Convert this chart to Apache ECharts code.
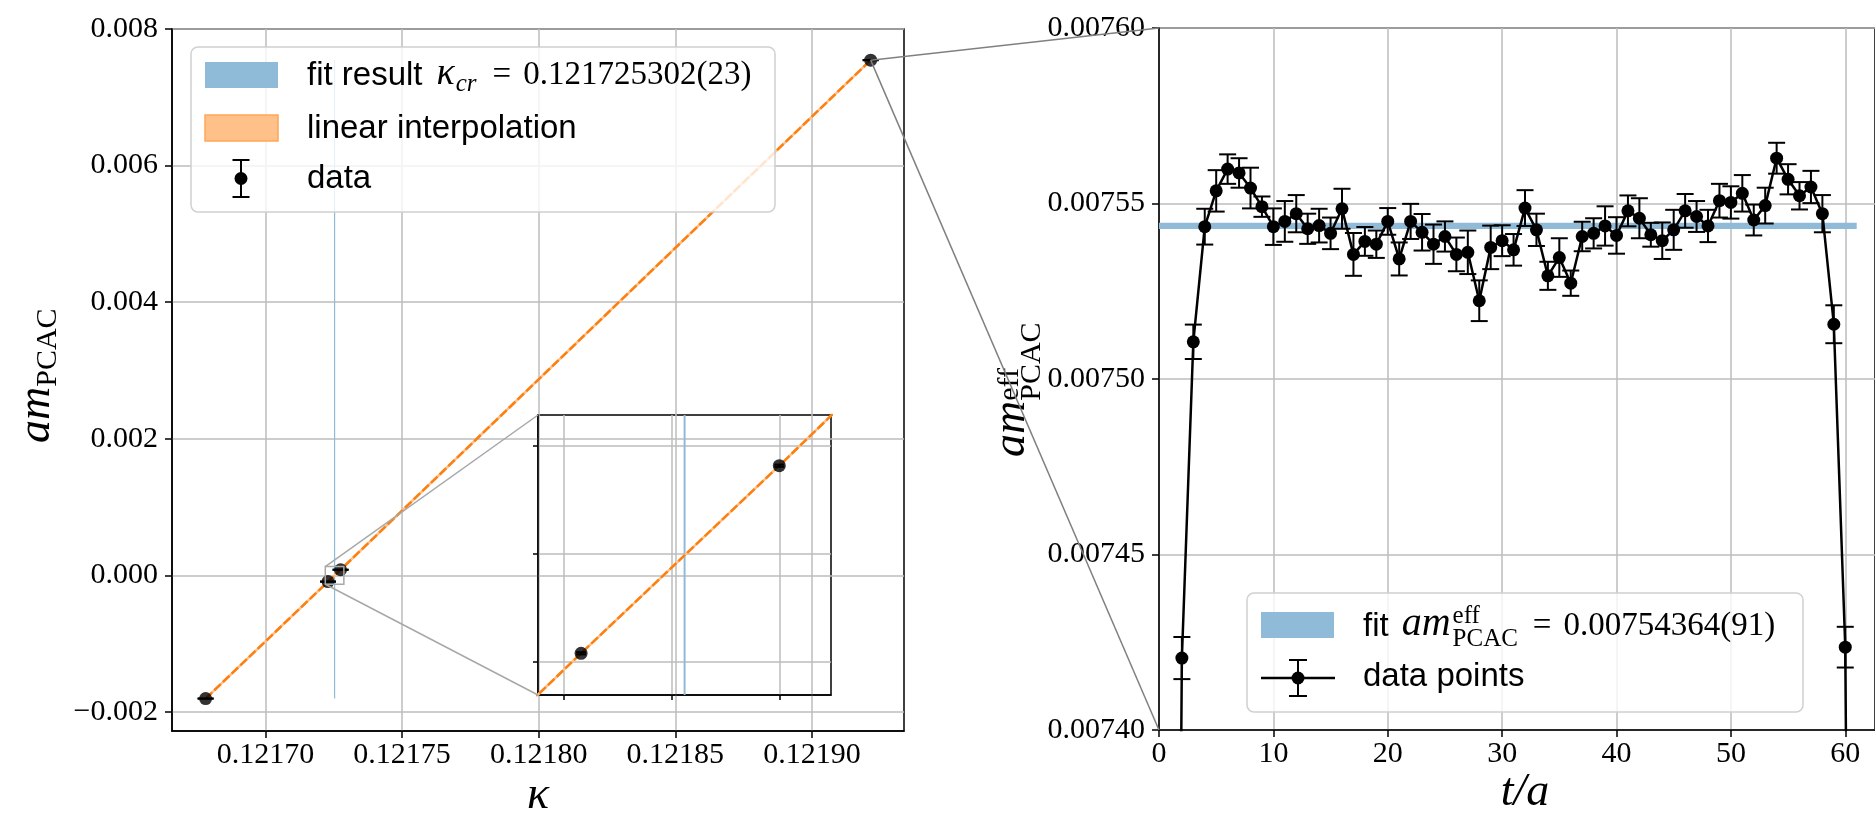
<!DOCTYPE html>
<html>
<head>
<meta charset="utf-8">
<script src="https://cdn.jsdelivr.net/npm/echarts@6/dist/echarts.min.js"></script>
<style>
  html, body { margin: 0; padding: 0; background: #ffffff; }
  #chart { width: 1875px; height: 819px; }
</style>
</head>
<body>
<div id="chart"></div>
<script>
// ---- hopping-parameter scan: PCAC mass against kappa ----
const kappaValues   = [0.1216781, 0.1217229, 0.1217275, 0.1219215];
const mPcacValues   = [-0.001805, -0.0000922, 0.0000815, 0.00754364];
const mPcacErrors   = [0.0000012, 0.0000010, 0.0000010, 0.00000091];
const kappaCritical = 0.121725302;
const kappaCriticalError = 0.000000023;
const kappaRange    = [0.1216658, 0.1219337];
const mPcacRange    = [-0.00228, 0.008];
const kappaTickValues = [0.12170, 0.12175, 0.12180, 0.12185, 0.12190];
const mPcacTickValues = [-0.002, 0, 0.002, 0.004, 0.006, 0.008];
// zoomed view around the zero crossing
const insetKappaRange = [0.1217219, 0.1217287];
const insetMRange     = [-0.0001308, 0.0001284];
const insetKappaTickValues = [0.1217225, 0.1217250, 0.1217275];
const insetMTickValues     = [-0.0001, 0, 0.0001];

// ---- effective PCAC mass against t/a ----
const tValues = [1, 2, 3, 4, 5, 6, 7, 8, 9, 10, 11, 12, 13, 14, 15, 16, 17, 18, 19, 20,
  21, 22, 23, 24, 25, 26, 27, 28, 29, 30, 31, 32, 33, 34, 35, 36, 37, 38, 39, 40,
  41, 42, 43, 44, 45, 46, 47, 48, 49, 50, 51, 52, 53, 54, 55, 56, 57, 58, 59, 60, 61];
const mEffValues = [0.00700, 0.0074205, 0.0075106, 0.0075434, 0.0075536, 0.0075598, 0.0075587,
  0.0075544, 0.0075491, 0.0075434, 0.0075449, 0.0075471, 0.0075428, 0.0075437, 0.0075415,
  0.0075485, 0.0075355, 0.0075392, 0.0075384, 0.0075449, 0.0075342, 0.0075449, 0.0075418,
  0.0075384, 0.0075406, 0.0075355, 0.0075361, 0.0075223, 0.0075375, 0.0075394, 0.0075368,
  0.0075487, 0.0075425, 0.0075294, 0.0075346, 0.0075273, 0.0075406, 0.0075415, 0.0075436,
  0.0075409, 0.0075479, 0.0075458, 0.0075411, 0.0075394, 0.0075425, 0.0075479, 0.0075463,
  0.0075436, 0.0075508, 0.0075503, 0.0075529, 0.0075453, 0.0075494, 0.0075629, 0.0075569,
  0.0075522, 0.0075547, 0.0075471, 0.0075156, 0.0074236, 0.00700];
const mEffErrors = [0.0000060, 0.0000060, 0.0000049, 0.0000051, 0.0000059, 0.0000042, 0.0000042,
  0.0000058, 0.0000029, 0.0000052, 0.0000058, 0.0000053, 0.0000043, 0.0000048, 0.0000045,
  0.0000057, 0.0000061, 0.0000041, 0.0000039, 0.0000038, 0.0000047, 0.0000050, 0.0000052,
  0.0000056, 0.0000043, 0.0000048, 0.0000062, 0.0000058, 0.0000062, 0.0000044, 0.0000045,
  0.0000051, 0.0000046, 0.0000040, 0.0000055, 0.0000036, 0.0000042, 0.0000043, 0.0000056,
  0.0000052, 0.0000044, 0.0000057, 0.0000034, 0.0000052, 0.0000057, 0.0000048, 0.0000044,
  0.0000046, 0.0000048, 0.0000046, 0.0000052, 0.0000044, 0.0000051, 0.0000044, 0.0000043,
  0.0000039, 0.0000046, 0.0000053, 0.0000054, 0.0000058, 0.0000060];
const mEffFit      = 0.00754364;
const mEffFitError = 0.00000091;
const fitRange     = [0, 61];
const tRange       = [0, 62.6];
const mEffRange    = [0.0074, 0.0076];
const tTickValues    = [0, 10, 20, 30, 40, 50, 60];
const mEffTickValues = [0.0074, 0.00745, 0.0075, 0.00755, 0.0076];

// ---- styling ----
const SERIF = 'Liberation Serif';
const SANS = 'Liberation Sans';
const BLUE_FILL = '#8fbbd9';
const ORANGE = '#ff7f0e';
const ORANGE_FILL = '#ffc08a';
const GRID_GRAY = '#bdbdbd';
const MARKER = 13;

const chart = echarts.init(document.getElementById('chart'), null, { renderer: 'canvas' });

function signed(v, digits) {
  return (v < 0 ? '\u2212' : '') + Math.abs(v).toFixed(digits);
}

function valueAxis(gridIndex, range, ticks, formatter, tickLen, labelMargin) {
  return {
    type: 'value', gridIndex: gridIndex, min: range[0], max: range[1],
    axisLine: { show: true, onZero: false, lineStyle: { color: '#000', width: 1.5 } },
    axisTick: { show: true, inside: false, length: tickLen, customValues: ticks,
                lineStyle: { color: '#000', width: 1.5 } },
    axisLabel: { show: !!formatter, customValues: ticks, formatter: formatter || undefined,
                 margin: labelMargin || 8, color: '#000', fontFamily: SERIF, fontSize: 30 },
    splitLine: { show: true, lineStyle: { color: GRID_GRAY, width: 1.5 } }
  };
}

// vertical error bar with caps
function errorBarItem(capHalf, width) {
  return function (params, api) {
    const x = api.value(0), y = api.value(1), e = api.value(2);
    const top = api.coord([x, y + e]);
    const bot = api.coord([x, y - e]);
    const st = { stroke: '#000', lineWidth: width };
    return { type: 'group', children: [
      { type: 'line', shape: { x1: top[0], y1: top[1], x2: bot[0], y2: bot[1] }, style: st },
      { type: 'line', shape: { x1: top[0] - capHalf, y1: top[1], x2: top[0] + capHalf, y2: top[1] }, style: st },
      { type: 'line', shape: { x1: bot[0] - capHalf, y1: bot[1], x2: bot[0] + capHalf, y2: bot[1] }, style: st }
    ]};
  };
}

// filled band [x0, x1, y0, y1], at least one pixel across
function bandItem(params, api) {
  const lo = api.coord([api.value(0), api.value(2)]);
  const hi = api.coord([api.value(1), api.value(3)]);
  let x = lo[0], w = hi[0] - lo[0];
  if (w < 1.2) { x = (lo[0] + hi[0]) / 2 - 0.6; w = 1.2; }
  let y = hi[1], h = lo[1] - hi[1];
  if (h < 1.2) { y = (lo[1] + hi[1]) / 2 - 0.6; h = 1.2; }
  return { type: 'rect', shape: { x: x, y: y, width: w, height: h }, style: { fill: BLUE_FILL } };
}

const kappaPoints = kappaValues.map((k, i) => [k, mPcacValues[i]]);
const kappaErrData = kappaValues.map((k, i) => [k, mPcacValues[i], mPcacErrors[i]]);
const kappaBand = [[kappaCritical - kappaCriticalError, kappaCritical + kappaCriticalError,
                    Math.min.apply(null, mPcacValues), Math.max.apply(null, mPcacValues)]];
const effPoints = tValues.map((t, i) => [t, mEffValues[i]]);
const effErrData = tValues.map((t, i) => [t, mEffValues[i], mEffErrors[i]]);
const effBand = [[fitRange[0], fitRange[1], mEffFit - mEffFitError, mEffFit + mEffFitError]];

function kappaSeries(axisIndex, capHalf) {
  return [
    { type: 'custom', xAxisIndex: axisIndex, yAxisIndex: axisIndex, clip: true, z: 2, silent: true,
      renderItem: bandItem, encode: { x: [0, 1], y: [2, 3] }, data: kappaBand },
    { type: 'line', xAxisIndex: axisIndex, yAxisIndex: axisIndex, clip: true, z: 3, silent: true,
      showSymbol: false, data: kappaPoints, lineStyle: { color: ORANGE_FILL, width: 2.5 } },
    { type: 'line', xAxisIndex: axisIndex, yAxisIndex: axisIndex, clip: true, z: 3, silent: true,
      showSymbol: false, data: kappaPoints, lineStyle: { color: ORANGE, width: 2.5, type: [9, 3] } },
    { type: 'custom', xAxisIndex: axisIndex, yAxisIndex: axisIndex, clip: true, z: 4, silent: true,
      renderItem: errorBarItem(capHalf, 2), encode: { x: 0, y: 1 }, data: kappaErrData },
    { type: 'scatter', xAxisIndex: axisIndex, yAxisIndex: axisIndex, clip: true, z: 5, silent: true,
      symbol: 'circle', symbolSize: MARKER, itemStyle: { color: '#000' }, data: kappaPoints }
  ];
}

chart.setOption({
  animation: false,
  backgroundColor: '#ffffff',
  grid: [
    { left: 172, top: 29, width: 732, height: 702, show: true, backgroundColor: 'transparent',
      borderColor: '#000', borderWidth: 1.5 },
    { left: 538, top: 415, width: 293, height: 280, show: true, backgroundColor: 'transparent',
      borderColor: '#000', borderWidth: 1.5 },
    { left: 1159, top: 28, width: 716, height: 702, show: true, backgroundColor: 'transparent',
      borderColor: '#000', borderWidth: 1.5 }
  ],
  xAxis: [
    valueAxis(0, kappaRange, kappaTickValues, v => v.toFixed(5), 7, 9),
    valueAxis(1, insetKappaRange, insetKappaTickValues, null, 5),
    valueAxis(2, tRange, tTickValues, v => String(Math.round(v)), 7, 9)
  ],
  yAxis: [
    valueAxis(0, mPcacRange, mPcacTickValues, v => signed(v, 3), 7, 14),
    valueAxis(1, insetMRange, insetMTickValues, null, 5),
    valueAxis(2, mEffRange, mEffTickValues, v => v.toFixed(5), 7, 14)
  ],
  series: [].concat(
    kappaSeries(0, 8),
    kappaSeries(1, 5),
    [
      { type: 'custom', xAxisIndex: 2, yAxisIndex: 2, clip: true, z: 2, silent: true,
        renderItem: bandItem, encode: { x: [0, 1], y: [2, 3] }, data: effBand },
      { type: 'custom', xAxisIndex: 2, yAxisIndex: 2, clip: true, z: 4, silent: true,
        renderItem: errorBarItem(8.5, 2), encode: { x: 0, y: 1 }, data: effErrData },
      { type: 'line', xAxisIndex: 2, yAxisIndex: 2, clip: true, z: 5, silent: true,
        data: effPoints, symbol: 'circle', symbolSize: MARKER, showSymbol: true, showAllSymbol: true,
        itemStyle: { color: '#000' }, lineStyle: { color: '#000', width: 2.5 } }
    ]
  )
});

// ---- text runs (mixed fonts, sub/superscripts) ----
const measureCtx = document.createElement('canvas').getContext('2d');
function runText(x0, y0, parts, vertical) {
  const out = [];
  let adv = 0, stackStart = 0;
  parts.forEach(p => {
    measureCtx.font = (p.italic ? 'italic ' : '') + p.size + 'px "' + p.family + '"';
    const w = measureCtx.measureText(p.text).width;
    const start = p.stack ? stackStart : adv + (p.gap || 0);
    const mid = (p.shift || 0) - 0.34 * p.size;
    const x = vertical ? x0 + mid : x0 + start;
    const y = vertical ? y0 - start : y0 + mid;
    out.push({ type: 'text', x: x, y: y, rotation: vertical ? Math.PI / 2 : 0, z: 102, silent: true,
      style: { text: p.text, fontSize: p.size, fontFamily: p.family,
               fontStyle: p.italic ? 'italic' : 'normal', fill: '#000',
               align: 'left', verticalAlign: 'middle' } });
    if (p.stack) { adv = Math.max(adv, start + w); }
    else { stackStart = start; adv = start + w; }
  });
  return out;
}
function centeredText(cx, baseline, text, size, italic) {
  measureCtx.font = (italic ? 'italic ' : '') + size + 'px "' + SERIF + '"';
  const w = measureCtx.measureText(text).width;
  return runText(cx - w / 2, baseline, [{ text: text, size: size, family: SERIF, italic: italic }], false);
}
function legendBox(x, y, w, h) {
  return { type: 'rect', z: 100, silent: true, shape: { x: x, y: y, width: w, height: h, r: 7 },
           style: { fill: 'rgba(255,255,255,0.8)', stroke: '#d0d0d0', lineWidth: 1.5 } };
}
function errorIcon(cx, y1, y2, capHalf, withLine, lx1, lx2) {
  const st = { stroke: '#000', lineWidth: 2 };
  const els = [];
  if (withLine) {
    els.push({ type: 'line', z: 101, silent: true,
               shape: { x1: lx1, y1: (y1 + y2) / 2, x2: lx2, y2: (y1 + y2) / 2 },
               style: { stroke: '#000', lineWidth: 2.5 } });
  }
  els.push({ type: 'line', z: 101, silent: true, shape: { x1: cx, y1: y1, x2: cx, y2: y2 }, style: st });
  els.push({ type: 'line', z: 101, silent: true, shape: { x1: cx - capHalf, y1: y1, x2: cx + capHalf, y2: y1 }, style: st });
  els.push({ type: 'line', z: 101, silent: true, shape: { x1: cx - capHalf, y1: y2, x2: cx + capHalf, y2: y2 }, style: st });
  els.push({ type: 'circle', z: 101, silent: true, shape: { cx: cx, cy: (y1 + y2) / 2, r: MARKER / 2 },
             style: { fill: '#000' } });
  return els;
}

const elements = [];

// legend of the kappa scan
elements.push(legendBox(191, 47, 584, 165));
elements.push({ type: 'rect', z: 101, silent: true, shape: { x: 205, y: 62, width: 73, height: 26 },
                style: { fill: BLUE_FILL } });
elements.push({ type: 'rect', z: 101, silent: true, shape: { x: 205, y: 115, width: 73, height: 26 },
                style: { fill: ORANGE_FILL, stroke: '#ffa657', lineWidth: 1.5 } });
elements.push.apply(elements, errorIcon(241, 160, 197, 8.5, false));
elements.push.apply(elements, runText(307, 87, [
  { text: 'fit result', size: 33, family: SANS },
  { text: '\u03ba', size: 38, family: SERIF, italic: true, gap: 14 },
  { text: 'cr', size: 25, family: SERIF, italic: true, shift: 6, gap: 1 },
  { text: '=', size: 33, family: SERIF, gap: 16 },
  { text: '0.121725302(23)', size: 33, family: SERIF, gap: 12 }
], false));
elements.push.apply(elements, runText(307, 140, [{ text: 'linear interpolation', size: 33, family: SANS }], false));
elements.push.apply(elements, runText(307, 190, [{ text: 'data', size: 33, family: SANS }], false));

// legend of the effective mass
elements.push(legendBox(1247, 593, 556, 119));
elements.push({ type: 'rect', z: 101, silent: true, shape: { x: 1261, y: 612, width: 73, height: 26 },
                style: { fill: BLUE_FILL } });
elements.push.apply(elements, errorIcon(1298, 660, 696, 9, true, 1261, 1335));
elements.push.apply(elements, runText(1363, 638, [
  { text: 'fit', size: 33, family: SANS },
  { text: 'am', size: 40, family: SERIF, italic: true, gap: 13 },
  { text: 'eff', size: 25, family: SERIF, shift: -13, gap: 2 },
  { text: 'PCAC', size: 25, family: SERIF, shift: 10, stack: true },
  { text: '=', size: 33, family: SERIF, gap: 15 },
  { text: '0.00754364(91)', size: 33, family: SERIF, gap: 12 }
], false));
elements.push.apply(elements, runText(1363, 688, [{ text: 'data points', size: 33, family: SANS }], false));

// axis titles
elements.push.apply(elements, centeredText(538, 812, '\u03ba', 46, true));
elements.push.apply(elements, centeredText(1525, 809, 't/a', 46, true));
elements.push.apply(elements, runText(53, 443, [
  { text: 'am', size: 46, family: SERIF, italic: true },
  { text: 'PCAC', size: 30, family: SERIF, shift: 5 }
], true));
elements.push.apply(elements, runText(1028, 457, [
  { text: 'am', size: 46, family: SERIF, italic: true },
  { text: 'eff', size: 30, family: SERIF, shift: -8 },
  { text: 'PCAC', size: 30, family: SERIF, shift: 14, stack: true }
], true));

// zoom indicators, placed through the axes' own scales
const px = (grid, v) => chart.convertToPixel({ gridIndex: grid }, v);
const boxLL = px(0, [insetKappaRange[0], insetMRange[0]]);
const boxUR = px(0, [insetKappaRange[1], insetMRange[1]]);
const insetLL = px(1, [insetKappaRange[0], insetMRange[0]]);
const insetUL = px(1, [insetKappaRange[0], insetMRange[1]]);
const zoomStyle = { stroke: '#a8a8a8', lineWidth: 1.5, fill: null };
elements.push({ type: 'rect', z: 99, silent: true,
  shape: { x: boxLL[0], y: boxUR[1], width: boxUR[0] - boxLL[0], height: boxLL[1] - boxUR[1] },
  style: zoomStyle });
elements.push({ type: 'line', z: 99, silent: true,
  shape: { x1: boxLL[0], y1: boxUR[1], x2: insetUL[0], y2: insetUL[1] }, style: zoomStyle });
elements.push({ type: 'line', z: 99, silent: true,
  shape: { x1: boxLL[0], y1: boxLL[1], x2: insetLL[0], y2: insetLL[1] }, style: zoomStyle });

const lastPoint = px(0, kappaPoints[kappaPoints.length - 1]);
const effTopLeft = px(2, [tRange[0], mEffRange[1]]);
const effBottomLeft = px(2, [tRange[0], mEffRange[0]]);
const linkStyle = { stroke: '#808080', lineWidth: 1.5 };
elements.push({ type: 'line', z: 103, silent: true,
  shape: { x1: lastPoint[0], y1: lastPoint[1], x2: effTopLeft[0], y2: effTopLeft[1] }, style: linkStyle });
elements.push({ type: 'line', z: 103, silent: true,
  shape: { x1: lastPoint[0], y1: lastPoint[1], x2: effBottomLeft[0], y2: effBottomLeft[1] }, style: linkStyle });

chart.setOption({ graphic: { elements: elements } });
</script>
</body>
</html>
